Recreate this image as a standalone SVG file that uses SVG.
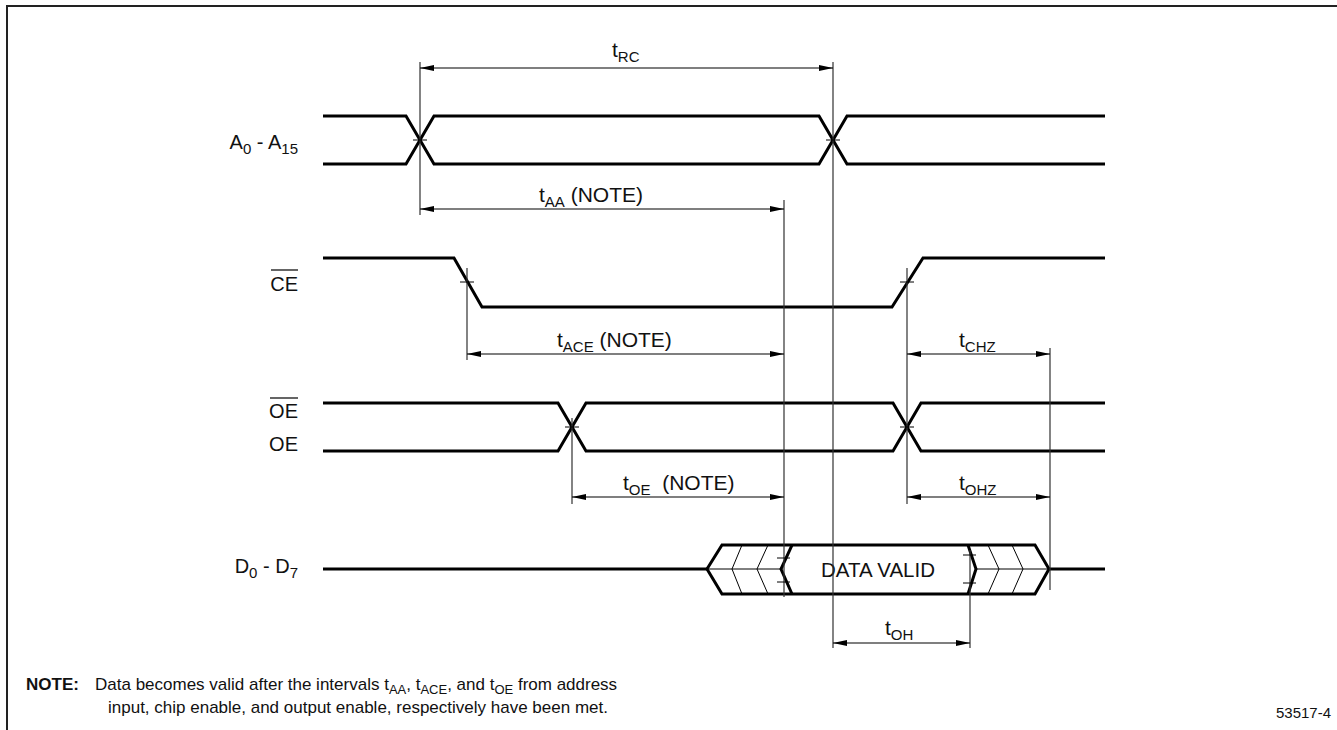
<svg xmlns="http://www.w3.org/2000/svg" width="1337" height="730" viewBox="0 0 1337 730">
<defs>
<style>
text{font-family:"Liberation Sans",Arial,sans-serif;fill:#111}
.lbl{font-size:20px}
.tl{font-size:21px}
.sub{font-size:15px}
.sig{fill:none;stroke:#000;stroke-width:3;stroke-linejoin:miter}
.thin{fill:none;stroke:#000;stroke-width:1}
.dim{fill:none;stroke:#333;stroke-width:1.2}
.arr{fill:none;stroke:#000;stroke-width:1.2;marker-start:url(#ah);marker-end:url(#ah)}
.note{font-size:17px}
.nsub{font-size:13px}
</style>
<marker id="ah" viewBox="0 0 14 6" refX="14" refY="3" markerWidth="14" markerHeight="6" markerUnits="userSpaceOnUse" orient="auto-start-reverse">
<path d="M0,0 L14,3 L0,6 Z" fill="#000"/>
</marker>
</defs>
<rect width="1337" height="730" fill="#fff"/>
<path d="M7,730 V6 H1337" fill="none" stroke="#222" stroke-width="2"/>

<g id="sig-a">
<text class="lbl" x="298" y="149" text-anchor="end">A<tspan class="sub" dy="5">0</tspan><tspan dy="-5"> - A</tspan><tspan class="sub" dy="5">15</tspan></text>
<path class="sig" d="M323,116 H406 L434,164 H819 L847,116 H1105"/>
<path class="sig" d="M323,164 H406 L434,116 H819 L847,164 H1105"/>
</g>
<g id="sig-ce">
<text class="lbl" x="298" y="291" text-anchor="end">CE</text>
<line x1="271" y1="270" x2="298" y2="270" stroke="#111" stroke-width="1.3"/>
<path class="sig" d="M323,258 H454 L482,307 H892 L923,258 H1105"/>
</g>
<g id="sig-oe">
<text class="lbl" x="298" y="418" text-anchor="end">OE</text>
<line x1="270" y1="398" x2="298" y2="398" stroke="#111" stroke-width="1.3"/>
<text class="lbl" x="298" y="451" text-anchor="end">OE</text>
<path class="sig" d="M323,403 H558 L586,451 H893 L921,403 H1105"/>
<path class="sig" d="M323,451 H558 L586,403 H893 L921,451 H1105"/>
</g>
<g id="sig-d">
<text class="lbl" x="298" y="573" text-anchor="end">D<tspan class="sub" dy="5">0</tspan><tspan dy="-5"> - D</tspan><tspan class="sub" dy="5">7</tspan></text>
<path class="sig" d="M323,569 H707 M1049,569 H1105"/>
<path class="sig" d="M707,569 L722,545 H1035 L1049,569 L1035,594 H722 Z"/>
<path class="sig" d="M792,545 L781,569 L792,594 M968,545 L976,569 L968,594"/>
<path class="thin" d="M707,569 H781 M976,569 H1049 M742,545 L732,569 L742,594 M768,545 L757,569 L768,594 M988,545 L999,569 L988,594 M1012,545 L1023,569 L1012,594"/>
<text class="lbl" x="878" y="577" text-anchor="middle" style="font-size:20.5px">DATA VALID</text>
</g>

<g id="connectors">
<path class="dim" d="M420,62 V215 M833,62 V648 M784,200 V597 M467,268 V360 M907,268 V504 M1050,348 V590 M572,418 V504 M970,550 V648"/>
<path class="thin" d="M413,140 H427 M826,140 H840 M460,282 H474 M900,282 H914 M565,427 H579 M900,427 H914 M777,558 H790 M777,582 H790 M963,555 H976 M963,583 H976"/>
<line class="arr" x1="420" y1="68" x2="833" y2="68"/>
<line class="arr" x1="420" y1="209" x2="784" y2="209"/>
<line class="arr" x1="467" y1="354" x2="784" y2="354"/>
<line class="arr" x1="907" y1="354" x2="1050" y2="354"/>
<line class="arr" x1="572" y1="497" x2="784" y2="497"/>
<line class="arr" x1="907" y1="497" x2="1050" y2="497"/>
<line class="arr" x1="833" y1="643" x2="970" y2="643"/>
<text class="tl" x="612" y="57">t<tspan class="sub" dy="5">RC</tspan></text>
<text class="tl" x="539" y="202">t<tspan class="sub" dy="5">AA</tspan><tspan dy="-5"> (NOTE)</tspan></text>
<text class="tl" x="557" y="347">t<tspan class="sub" dy="5">ACE</tspan><tspan dy="-5"> (NOTE)</tspan></text>
<text class="tl" x="959" y="347">t<tspan class="sub" dy="5">CHZ</tspan></text>
<text class="tl" x="623" y="490">t<tspan class="sub" dy="5">OE</tspan><tspan dy="-5" xml:space="preserve">  (NOTE)</tspan></text>
<text class="tl" x="959" y="490">t<tspan class="sub" dy="5">OHZ</tspan></text>
<text class="tl" x="885" y="635">t<tspan class="sub" dy="5">OH</tspan></text>
</g>

<g id="note">
<text class="note" x="26" y="690"><tspan font-weight="bold">NOTE:</tspan><tspan x="95">Data becomes valid after the intervals t</tspan><tspan class="nsub" dy="4">AA</tspan><tspan dy="-4">, t</tspan><tspan class="nsub" dy="4">ACE</tspan><tspan dy="-4">, and t</tspan><tspan class="nsub" dy="4">OE</tspan><tspan dy="-4"> from address</tspan></text>
<text class="note" x="108" y="713">input, chip enable, and output enable, respectively have been met.</text>
<text x="1276" y="718" style="font-size:15px">53517-4</text>
</g>
</svg>
